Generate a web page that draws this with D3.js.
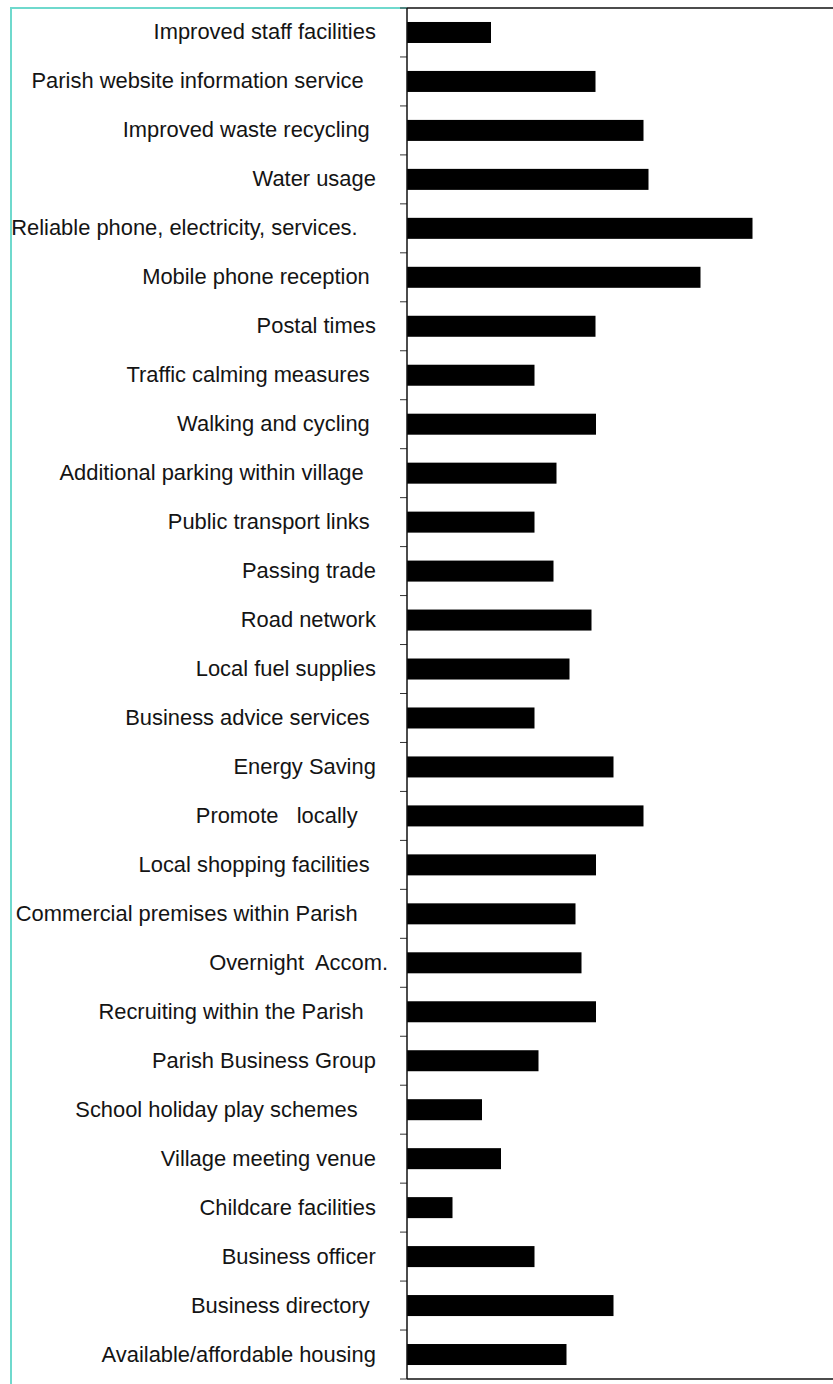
<!DOCTYPE html>
<html>
<head>
<meta charset="utf-8">
<script src="https://cdn.jsdelivr.net/npm/d3@7"></script>
<style>
  html, body { margin: 0; padding: 0; background: #fff; }
  svg { display: block; }
  .lbl text { white-space: pre; }
</style>
</head>
<body>
<svg id="chart" width="833" height="1384"></svg>
<script>
const categories = [
  "Improved staff facilities  ",
  "Parish website information service    ",
  "Improved waste recycling   ",
  "Water usage  ",
  "Reliable phone, electricity, services.     ",
  "Mobile phone reception   ",
  "Postal times  ",
  "Traffic calming measures   ",
  "Walking and cycling   ",
  "Additional parking within village    ",
  "Public transport links   ",
  "Passing trade  ",
  "Road network  ",
  "Local fuel supplies  ",
  "Business advice services   ",
  "Energy Saving  ",
  "Promote   locally     ",
  "Local shopping facilities   ",
  "Commercial premises within Parish     ",
  "Overnight  Accom.",
  "Recruiting within the Parish    ",
  "Parish Business Group  ",
  "School holiday play schemes     ",
  "Village meeting venue  ",
  "Childcare facilities  ",
  "Business officer  ",
  "Business directory   ",
  "Available/affordable housing  "
];
const values = [
  16.8, 37.7, 47.3, 48.3, 69.1, 58.7, 37.7, 25.5, 37.8, 29.9,
  25.5, 29.3, 36.9, 32.5, 25.5, 41.3, 47.3, 37.8, 33.7, 34.9,
  37.8, 26.3, 15.0, 18.8, 9.1, 25.5, 41.3, 31.9
];
const xMax = 85.2;

const svg = d3.select("#chart");
const axisX = 407, plotTop = 8, plotBottom = 1379, plotRight = 833;

const y = d3.scaleBand()
  .domain(categories)
  .range([plotTop, plotBottom])
  .paddingInner(0.571)
  .paddingOuter(0.2855);

const x = d3.scaleLinear().domain([0, xMax]).range([axisX, plotRight]);

// cyan frame (left and top-left)
svg.append("path")
  .attr("d", `M11,1384 L11,${plotTop} L${axisX},${plotTop}`)
  .attr("fill", "none")
  .attr("stroke", "#6fd9cd")
  .attr("stroke-width", 2);

// bars
svg.append("g").selectAll("rect")
  .data(categories.map((c, i) => ({c, v: values[i]})))
  .join("rect")
  .attr("x", x(0))
  .attr("y", d => y(d.c))
  .attr("width", d => x(d.v) - x(0))
  .attr("height", y.bandwidth())
  .attr("fill", "#000");

// plot frame: top and bottom lines
svg.append("line").attr("x1", axisX).attr("x2", plotRight).attr("y1", plotTop).attr("y2", plotTop)
  .attr("stroke", "#111").attr("stroke-width", 1.5);
svg.append("line").attr("x1", axisX).attr("x2", plotRight).attr("y1", plotBottom).attr("y2", plotBottom)
  .attr("stroke", "#111").attr("stroke-width", 1.5);

// category labels via axis
const yAxis = d3.axisLeft(y).tickSize(0).tickPadding(axisX - 388);
const ag = svg.append("g").attr("class", "lbl")
  .attr("transform", `translate(${axisX},0)`)
  .call(yAxis);
ag.select(".domain").remove();
ag.selectAll("text")
  .attr("font-family", "'Liberation Sans', Arial, sans-serif")
  .attr("font-size", "21.9px")
  .attr("fill", "#141414");

// boundary ticks between categories
const step = y.step();
const bounds = d3.range(categories.length + 1).map(i => y(categories[0]) - step * y.paddingInner() / 2 + i * step);
svg.append("g").selectAll("line")
  .data(bounds)
  .join("line")
  .attr("x1", axisX - 7).attr("x2", axisX)
  .attr("y1", d => d).attr("y2", d => d)
  .attr("stroke", "#333").attr("stroke-width", 1);

// vertical axis line
svg.append("line").attr("x1", axisX).attr("x2", axisX).attr("y1", plotTop).attr("y2", plotBottom)
  .attr("stroke", "#111").attr("stroke-width", 1.5);
</script>
</body>
</html>
